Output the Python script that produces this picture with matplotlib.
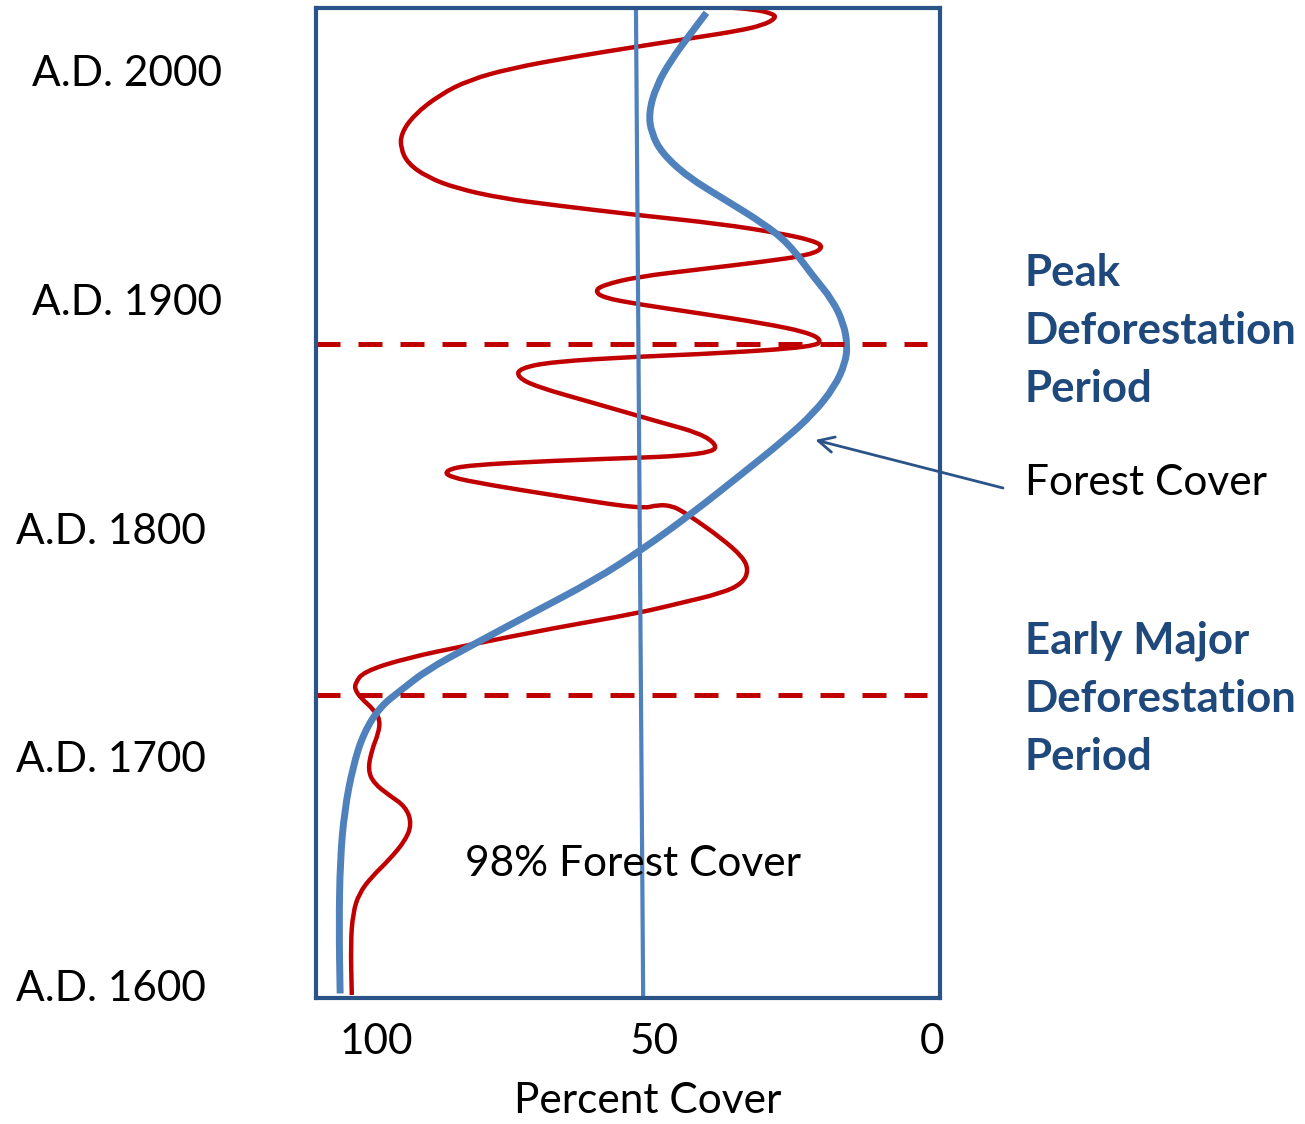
import numpy as np
import matplotlib.pyplot as plt
from matplotlib.path import Path
from matplotlib.patches import PathPatch

plt.rcParams['font.family'] = ['Lato', 'DejaVu Sans']

# ---- data (percent cover vs. year A.D.) ----
# red wiggly curve
red_years = [2027.8, 2026.7, 2024.7, 2022.8, 2019.8, 2017.3, 2014.7, 2010.4, 2006.0, 2000.9,
             1995.8, 1989.3, 1980.5, 1972.5, 1966.0, 1959.4, 1953.5, 1948.5, 1944.1, 1941.2,
             1936.8, 1932.9, 1928.8, 1925.6, 1922.7, 1919.3, 1916.4, 1913.1, 1909.8, 1906.2,
             1903.6, 1900.7, 1897.9, 1893.8, 1889.5, 1885.8, 1882.2, 1879.2, 1876.4, 1874.9,
             1872.7, 1869.8, 1866.1, 1861.8, 1854.5, 1846.5, 1841.4, 1836.3, 1833.3, 1831.5,
             1830.7, 1829.4, 1827.5, 1825.3, 1822.4, 1818.8, 1814.4, 1808.3, 1810.2, 1809.6,
             1807.1, 1803.5, 1795.5, 1787.5, 1781.6, 1775.8, 1771.5, 1767.1, 1762.7, 1756.2,
             1748.9, 1743.1, 1737.2, 1732.1, 1729.2, 1725.6, 1720.5, 1716.1, 1710.3, 1703.0,
             1694.2, 1688.4, 1683.3, 1678.2, 1670.9, 1663.6, 1654.9, 1647.6, 1640.3, 1631.6,
             1618.5, 1595.9]
red_cover = [38.3, 31.9, 28.5, 28.1, 30.4, 34.9, 41.7, 53.1, 64.5, 75.9,
             83.4, 88.7, 93.3, 95.6, 95.7, 94.4, 91.0, 85.7, 77.4, 68.3,
             53.1, 37.9, 27.3, 21.3, 19.4, 22.0, 30.4, 41.7, 53.1, 59.2,
             60.7, 59.2, 53.1, 41.7, 30.4, 22.8, 19.7, 21.3, 37.9, 53.1,
             68.3, 74.3, 74.7, 71.3, 60.7, 49.3, 41.7, 38.7, 39.5, 45.5,
             53.1, 68.3, 83.4, 87.6, 87.2, 79.6, 68.3, 52.3, 49.3, 46.7,
             44.8, 42.5, 37.9, 34.1, 33.0, 34.1, 37.9, 45.5, 53.1, 68.3,
             83.4, 94.8, 102.4, 103.9, 103.9, 102.8, 100.5, 99.4, 99.7, 100.9,
             101.6, 100.5, 97.8, 94.8, 93.7, 94.8, 97.8, 100.9, 103.2, 104.3,
             104.7, 104.5]

# smooth blue forest cover curve
forest_years = [2025.2, 2016.9, 2004.5, 1992.9, 1981.3, 1972.5, 1963.8, 1953.5, 1943.4, 1933.2,
                1924.4, 1909.8, 1899.7, 1889.5, 1880.0, 1872.0, 1861.8, 1850.1, 1838.5, 1823.9,
                1806.4, 1790.4, 1777.3, 1762.7, 1748.1, 1737.9, 1729.2, 1721.9, 1710.3, 1695.7,
                1676.7, 1654.9, 1625.7, 1596.6]
forest_cover = [40.6, 43.2, 47.0, 49.7, 51.0, 50.5, 48.6, 44.0, 37.2, 30.4,
                25.8, 21.3, 17.9, 15.9, 15.2, 15.6, 17.5, 21.3, 26.6, 34.1,
                43.2, 52.3, 60.7, 72.1, 83.4, 91.0, 95.6, 99.4, 102.4, 104.3,
                105.8, 106.6, 106.8, 106.6]

# near-vertical reference line
ref_years = [2027.1, 1594.6]
ref_cover = [53.3, 52.0]

# deforestation period boundaries
period_years = [1880.4, 1727.0]

year_ticks = [2000, 1900, 1800, 1700, 1600]
year_labels = ['A.D. 2000', 'A.D. 1900', 'A.D. 1800', 'A.D. 1700', 'A.D. 1600']
cover_ticks = [100, 50, 0]

RED = '#C00000'
BLUE = '#4F81BD'
NAVY = '#2A5388'
TITLE_BLUE = '#1F497D'
FS = 30.5


def smooth_path(xs, ys):
    # quadratic bezier through the midpoints, read points act as control points
    pts = np.column_stack([xs, ys])
    mids = (pts[:-1] + pts[1:]) / 2
    verts = [pts[0], mids[0]]
    codes = [Path.MOVETO, Path.LINETO]
    for i in range(1, len(pts) - 1):
        verts += [pts[i], mids[i]]
        codes += [Path.CURVE3, Path.CURVE3]
    verts.append(pts[-1])
    codes.append(Path.LINETO)
    return Path(verts, codes)


fig = plt.figure(figsize=(13.05, 11.24), dpi=100)
ax = fig.add_axes([0.2421, 0.1121, 0.4782, 0.8808])

ax.plot(ref_cover, ref_years, color=BLUE, lw=3.0, solid_capstyle='butt')
ax.add_patch(PathPatch(smooth_path(red_cover, red_years), fill=False,
                       edgecolor=RED, lw=3.2, capstyle='butt', joinstyle='round'))
ax.add_patch(PathPatch(smooth_path(forest_cover, forest_years), fill=False,
                       edgecolor=BLUE, lw=5.0, capstyle='butt', joinstyle='round'))

for yr in period_years:
    ax.axhline(yr, xmin=0, xmax=0.979, color=RED, lw=3.6, dashes=(4.8, 3.6))

ax.set_xlim(110.96, -1.48)
ax.set_ylim(1594.6, 2027.3)

for s in ax.spines.values():
    s.set_color(NAVY)
    s.set_linewidth(3.0)

ax.set_xticks(cover_ticks)
ax.set_xticklabels([str(c) for c in cover_ticks])
ax.tick_params(axis='x', length=0, pad=18, labelsize=FS)
ax.set_yticks([])
ax.set_xlabel('Percent Cover', fontsize=FS, va='baseline')
ax.xaxis.set_label_coords(0.532, -0.1162)

# year labels, left aligned at two different offsets like the original
ytr = ax.get_yaxis_transform()
for yr, lab in zip(year_ticks, year_labels):
    xpos = -0.455 if yr >= 1900 else -0.481
    ax.text(xpos, yr, lab, transform=ytr, ha='left', va='center_baseline', fontsize=FS)

ax.text(0.508, 0.135, '98% Forest Cover', transform=ax.transAxes,
        ha='center', va='center', fontsize=FS)

# right hand annotations
fig.text(0.7854, 1 - 331 / 1124, 'Peak\nDeforestation\nPeriod', ha='left', va='center',
         fontsize=31.5, fontweight='bold', color=TITLE_BLUE, linespacing=1.55)
fig.text(0.7854, 1 - 699 / 1124, 'Early Major\nDeforestation\nPeriod', ha='left', va='center',
         fontsize=31.5, fontweight='bold', color=TITLE_BLUE, linespacing=1.55)
fig.text(0.7854, 1 - 483 / 1124, 'Forest Cover', ha='left', va='center', fontsize=FS)

ax.annotate('', xy=(21.0, 1838.5), xycoords='data',
            xytext=(1003 / 1305, 1 - 488 / 1124), textcoords='figure fraction',
            arrowprops=dict(arrowstyle='->', color=NAVY, lw=2.0,
                            mutation_scale=28, shrinkA=0, shrinkB=0),
            annotation_clip=False)

fig.savefig('out.png', dpi=100)
